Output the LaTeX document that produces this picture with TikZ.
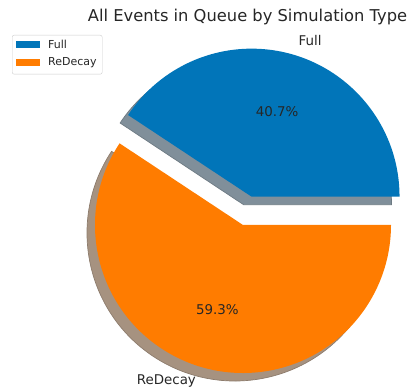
\documentclass[tikz,border=0pt]{standalone}
\usepackage{fontspec}
\setmainfont{DejaVu Sans}
\usepackage{tikz}
\usetikzlibrary{calc}
\definecolor{fullblue}{RGB}{1,117,185}
\definecolor{redecayorange}{RGB}{255,124,0}
\definecolor{fullshadow}{RGB}{128,143,154}
\definecolor{redecayshadow}{RGB}{166,146,128}
\definecolor{legendedge}{RGB}{204,204,204}
\tikzstyle{pctlabel} = [font=\fontsize{13.4}{15}\selectfont, text=black!85, inner sep=0pt]
\tikzstyle{slicelabel} = [font=\fontsize{13.4}{15}\selectfont, text=black!85, inner sep=0pt]
\tikzstyle{legendkey} = [minimum width=24pt, minimum height=7pt, inner sep=0pt]
\tikzstyle{legendtext} = [font=\fontsize{11}{13}\selectfont, text=black!85, anchor=west, inner sep=0pt]
\tikzstyle{shadowedge} = [line width=0.7pt]

\begin{document}
\begin{tikzpicture}[x=1pt, y=1pt]
    \useasboundingbox (0,0) rectangle (411,388);
    \coordinate (pie) at (243,163);
    \coordinate (full) at ($(pie)+(73.26:29.6)$);
    \coordinate (fullsh) at ($(full)+(-8,-8)$);
    \coordinate (piesh) at ($(pie)+(-8,-8)$);
    % shadows under both wedges
    \filldraw [fill=fullshadow, draw=fullshadow!85!black, shadowedge] (fullsh) -- ++(0:148) arc[start angle=0, end angle=146.52, radius=148] -- cycle;
    \filldraw [fill=redecayshadow, draw=redecayshadow!85!black, shadowedge] (piesh) -- ++(146.52:148) arc[start angle=146.52, end angle=360, radius=148] -- cycle;
    % wedges
    \fill [fullblue] (full) -- ++(0:148) arc[start angle=0, end angle=146.52, radius=148] -- cycle;
    \fill [redecayorange] (pie) -- ++(146.52:148) arc[start angle=146.52, end angle=360, radius=148] -- cycle;
    % labels
    \node (fulllbl) [slicelabel, anchor=west] at ($(full)+(73.26:162.8)$) {Full};
    \node (redecaylbl) [slicelabel, anchor=east] at ($(pie)+(253.26:162.8)$) {ReDecay};
    \node (fullpct) [pctlabel] at ($(full)+(73.26:88.8)$) {40.7\%};
    \node (redecaypct) [pctlabel] at ($(pie)+(253.26:88.8)$) {59.3\%};
    \node (title) [font=\fontsize{16.3}{19}\selectfont, text=black!85, inner sep=0pt] at (247.5,371) {All Events in Queue by Simulation Type};
    % legend
    \node (legend) [draw=legendedge, fill=white, fill opacity=0.8, rounded corners=2pt, minimum width=90pt, minimum height=39pt, anchor=north west] at (12,353) {};
    \node (keyfull) [legendkey, fill=fullblue] at (27.5,343.5) {};
    \node (keyredecay) [legendkey, fill=redecayorange] at (27.5,325.5) {};
    \node (txtfull) [legendtext] at (48,343.5) {Full};
    \node (txtredecay) [legendtext] at (48,325.5) {ReDecay};
\end{tikzpicture}
\end{document}
